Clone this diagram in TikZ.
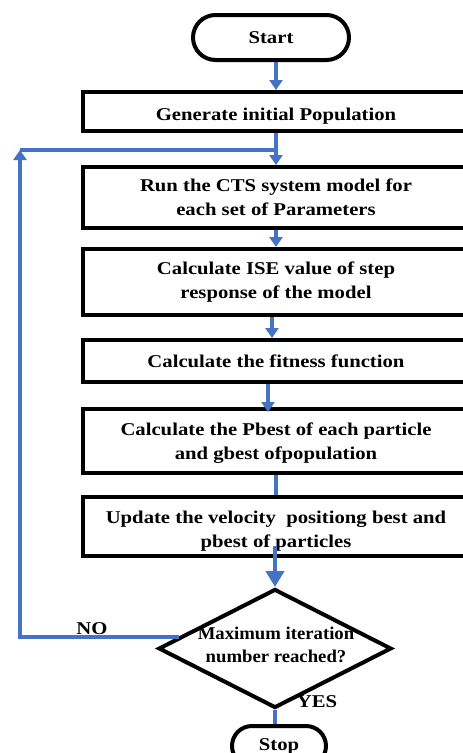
\documentclass[tikz,border=0pt]{standalone}
\usepackage{fontspec}
\setmainfont{Liberation Serif}[FakeStretch=1.15]
\newfontfamily\dfont{Liberation Serif}[FakeStretch=1.04]
\usetikzlibrary{shapes.geometric,shapes.misc,arrows.meta,calc}
\definecolor{flowblue}{RGB}{68,114,196}
\begin{document}
\begin{tikzpicture}[x=1pt,y=-1pt,
  every node/.style={font=\fontsize{18}{24}\selectfont\bfseries},
  box/.style={draw=black,line width=4pt,minimum width=386pt,inner sep=0pt,align=center},
  term/.style={draw=black,line width=4pt,rounded rectangle,inner sep=0pt},
  conn/.style={draw=flowblue,line width=4pt},
  arr/.style={conn,-{Triangle[length=10pt,width=13pt]}},
  bigarr/.style={conn,-{Triangle[length=16pt,width=18pt]}},
  lbl/.style={inner sep=0pt}
]
\useasboundingbox (0,0) rectangle (463,753);
\clip (0,0) rectangle (463,753);

\node[term,minimum width=156pt,minimum height=45pt] (start) at (271,37.5) {Start};
\node[box,minimum height=39pt,text height=17pt,text depth=0pt] (b1) at (276,111.5) {Generate initial Population};
\node[box,minimum height=61pt] (b2) at (276,197.5) {Run the CTS system model for\\each set of Parameters};
\node[box,minimum height=66pt] (b3) at (276,282) {Calculate ISE value of step\\response of the model};
\node[box,minimum height=42pt] (b4) at (276,361) {Calculate the fitness function};
\node[box,minimum height=64pt,text height=36pt,text depth=0pt] (b5) at (276,441) {Calculate the Pbest of each particle\\and gbest ofpopulation};
\node[box,minimum height=59pt,text height=41pt,text depth=0pt] (b6) at (276,526.5) {Update the velocity\ \ positiong best and\\pbest of particles};
\node[draw=black,line width=4pt,diamond,minimum width=233pt,minimum height=119pt,inner sep=0pt] (dec) at (275,648.5) {};
\node[font=\dfont\fontsize{18}{23}\selectfont\bfseries,align=center,inner sep=0pt] (dtext) at (276,645) {Maximum iteration\\number reached?};
\node[term,minimum width=94pt,minimum height=40pt] (stop) at (279,746) {Stop};

\node[lbl] (no) at (92,629) {NO};
\node[lbl] (yes) at (317,702) {YES};

\coordinate (join) at (276,150);
\coordinate (loopc) at (20,150);

\draw[arr] (start.south -| b1.north) -- (b1.north);
\draw[arr] (b1.south) -- (b2.north);
\draw[conn] (loopc) -- (join);
\draw[arr] ($(dec.west)!0.19!(dec.north)$) -| (loopc);
\draw[arr] (b2.south) -- (b3.north);
\draw[arr] ([xshift=-4pt]b3.south) -- ([xshift=-4pt]b4.north);
\draw[arr] ([xshift=-8pt]b4.south) -- ([xshift=-8pt,yshift=-5pt]b5.north);
\draw[conn] (b5.south) -- (b6.north);
\draw[bigarr] ([yshift=12pt]b6.south -| dec.north) -- (dec.north);
\draw[conn] (dec.south) -- (dec.south |- stop.north);
\end{tikzpicture}
\end{document}
